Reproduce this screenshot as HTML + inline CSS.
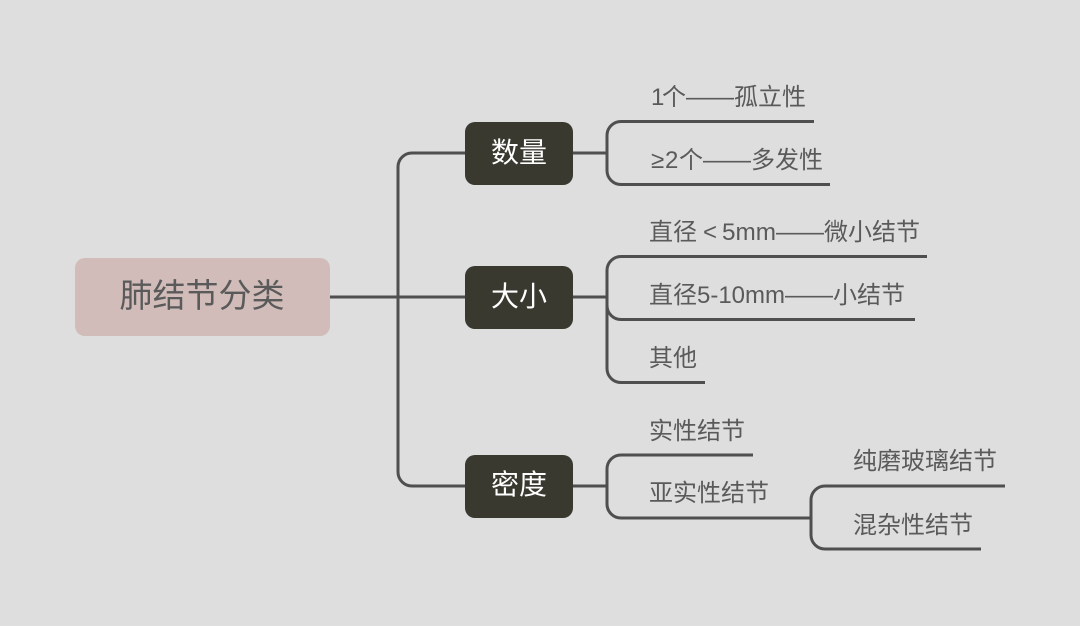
<!DOCTYPE html>
<html><head><meta charset="utf-8"><style>
html,body{margin:0;padding:0;background:#dedede;width:1080px;height:626px;overflow:hidden}
svg{display:block}
text{font-family:"Liberation Sans","Noto Sans CJK SC",sans-serif;font-size:24px;fill:#5a5a5a}
.b{font-size:28px;fill:#fff;text-anchor:middle}
.l{fill:none;stroke:#4f4f4f;stroke-width:3}
</style></head><body>
<svg width="1080" height="626" viewBox="0 0 1080 626" xmlns="http://www.w3.org/2000/svg">
<rect width="1080" height="626" fill="#dedede"/>
<g class="l">
<path class="l" d="M330 297H465"/>
<path class="l" d="M465 153H412A14 14 0 0 0 398 167V472A14 14 0 0 0 412 486H465"/>
<path class="l" d="M573 153H607"/>
<path class="l" d="M814 121.500H621A14 14 0 0 0 607 135.500V170.500A14 14 0 0 0 621 184.500H830"/>
<path class="l" d="M573 297H607"/>
<path class="l" d="M927 256.500H621A14 14 0 0 0 607 270.500V305.500A14 14 0 0 0 621 319.500H915"/>
<path class="l" d="M607 305V368.500A14 14 0 0 0 621 382.500H705"/>
<path class="l" d="M573 486H607"/>
<path class="l" d="M753 455H621A14 14 0 0 0 607 469V504A14 14 0 0 0 621 518H811"/>
<path class="l" d="M1005 486H825A14 14 0 0 0 811 500V535A14 14 0 0 0 825 549H981"/>
</g>
<rect x="75" y="258" width="255" height="78" rx="10" fill="#d1bcb9"/>
<rect x="465" y="122" width="108" height="63" rx="10" fill="#393930"/>
<rect x="465" y="266" width="108" height="63" rx="10" fill="#393930"/>
<rect x="465" y="455" width="108" height="63" rx="10" fill="#393930"/>
<text x="202" y="307" style="font-size:33px" text-anchor="middle">肺结节分类</text>
<text class="b" x="519" y="162">数量</text>
<text class="b" x="519" y="306">大小</text>
<text class="b" x="519" y="494">密度</text>
<text y="105"><tspan x="651">1</tspan><tspan x="662">个</tspan><tspan x="686">——</tspan><tspan x="734">孤立性</tspan></text>
<text y="168"><tspan x="651">≥</tspan><tspan x="665">2</tspan><tspan x="679">个</tspan><tspan x="703">——</tspan><tspan x="751">多发性</tspan></text>
<text y="240"><tspan x="649">直径</tspan><tspan x="703">&lt;</tspan><tspan x="722" textLength="54" lengthAdjust="spacingAndGlyphs">5mm</tspan><tspan x="776">——</tspan><tspan x="824">微小结节</tspan></text>
<text y="303"><tspan x="649">直径</tspan><tspan x="697" textLength="88" lengthAdjust="spacingAndGlyphs">5-10mm</tspan><tspan x="785">——</tspan><tspan x="833">小结节</tspan></text>
<text x="649" y="366">其他</text>
<text x="649" y="439">实性结节</text>
<text x="649" y="501">亚实性结节</text>
<text x="853" y="469">纯磨玻璃结节</text>
<text x="853" y="533">混杂性结节</text>
</svg>
</body></html>
